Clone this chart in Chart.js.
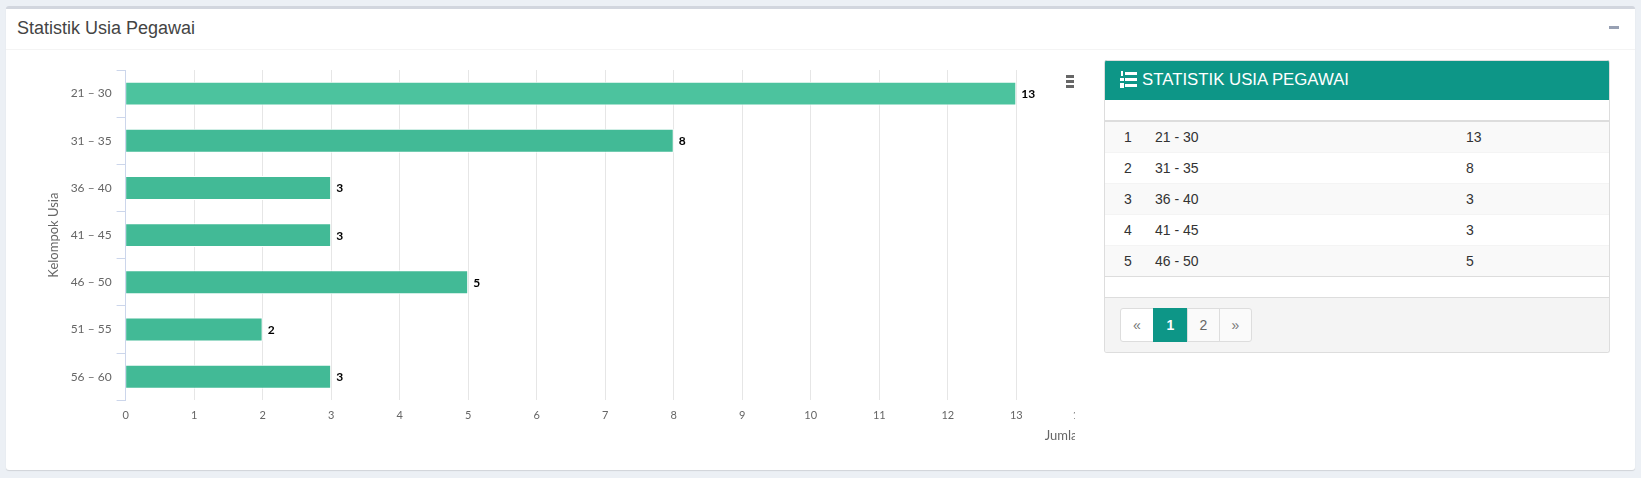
<!DOCTYPE html>
<html>
<head>
<meta charset="utf-8">
<title>Statistik Usia Pegawai</title>
<script src="https://cdn.jsdelivr.net/npm/chart.js@4"></script>
<style>
    * { box-sizing: border-box; }
    html, body { margin: 0; height: 100%; overflow: hidden; background: #ecf0f5; font-family: "Liberation Sans", Arial, sans-serif; color: #333; }
    .box { position: absolute; left: 6px; top: 6px; width: 1629px; height: 464px; background: #fff; border-top: 3px solid #d2d6de; border-radius: 3px; box-shadow: 0 1px 1px rgba(0,0,0,0.12); }
    .box-title { position: absolute; left: 11px; top: 9px; font-size: 18px; line-height: 21px; color: #444; }
    .box-line { position: absolute; left: 0; right: 0; top: 40px; height: 1px; background: #f4f4f4; }
    .minus { position: absolute; left: 1603px; top: 17px; width: 10px; height: 3px; background: #97a0b3; }
    .chart-clip { position: absolute; left: 6px; top: 59px; width: 1068.5px; height: 410px; overflow: hidden; }
    .chart-clip canvas { position: absolute; left: 0; top: 0; }
    .menu { position: absolute; left: 1066px; top: 75px; width: 8px; height: 13px; background: linear-gradient(#666 0 3px, #fff 3px 5px, #666 5px 8px, #fff 8px 10px, #666 10px 13px); }
    .card { position: absolute; left: 1104px; top: 60px; width: 506px; height: 293px; border: 1px solid #ddd; border-top: 0; border-radius: 3px; background: #fff; overflow: hidden; }
    .card-head { height: 40px; background: #0d9687; color: #fff; font-size: 16.8px; line-height: 37px; padding-left: 37px; position: relative; border-top: 1px solid #ddd; }
    .card-head svg { position: absolute; left: 15px; top: 10px; }
    .card table { position: absolute; left: 0; top: 60px; width: 504px; border-collapse: collapse; border-top: 2px solid #ddd; border-bottom: 1px solid #ddd; font-size: 14px; }
    .card td { height: 31px; padding: 0; border-top: 1px solid #f4f4f4; }
    .card tr:first-child td { border-top: 0; }
    .card tr:nth-child(odd) { background: #f9f9f9; }
    .card td:nth-child(1) { width: 50px; padding-left: 19px; }
    .card td:nth-child(2) { width: 311px; }
    .card-foot { position: absolute; left: 0; right: 0; top: 237px; bottom: 0; background: #f4f4f4; border-top: 1px solid #ddd; }
    .pager { position: absolute; left: 15px; top: 10px; display: flex; height: 34px; font-size: 14px; line-height: 32px; text-align: center; color: #666; }
    .pager span { display: block; width: 33px; background: #fafafa; border: 1px solid #ddd; margin-left: -1px; }
    .pager span:first-child { margin-left: 0; width: 34px; background: #fff; border-radius: 3px 0 0 3px; color: #777; }
    .pager span:last-child { border-radius: 0 3px 3px 0; color: #777; }
    .pager span.on { background: #0d9687; border-color: #0d9687; color: #fff; font-weight: bold; width: 35px; }
</style>
</head>
<body>
<div class="box">
    <div class="box-title">Statistik Usia Pegawai</div>
    <div class="box-line"></div>
    <div class="minus"></div>
</div>
<div class="chart-clip"><canvas id="grafikUsia" width="1100" height="410"></canvas></div>
<div class="menu"></div>
<div class="card">
    <div class="card-head">
        <svg width="18" height="18" viewBox="0 0 18 18">
            <g fill="#fff">
                <rect x="5" y="1" width="12" height="3"/><rect x="5" y="7" width="12" height="3"/><rect x="5" y="13" width="12" height="3"/>
                <rect x="1" y="0" width="2" height="5"/><rect x="0" y="7" width="4" height="3"/><rect x="0" y="12" width="4" height="5"/>
            </g>
        </svg>
        STATISTIK USIA PEGAWAI
    </div>
    <table><tbody id="tabelUsia"></tbody></table>
    <div class="card-foot">
        <div class="pager"><span>«</span><span class="on">1</span><span>2</span><span>»</span></div>
    </div>
</div>

<script>
    // Datos del grafico
    const kelompokUsia = ["21 - 30", "31 - 35", "36 - 40", "41 - 45", "46 - 50", "51 - 55", "56 - 60"];
    const jumlahPegawai = [13, 8, 3, 3, 5, 2, 3];
    const warnaBar = ["#4cc39e", "#42ba96", "#42ba96", "#42ba96", "#42ba96", "#42ba96", "#42ba96"];
    const barisTabel = 5; // la tabla solo muestra la primera pagina

    const fontEje = "Lato";

    // Filas de la tabla
    const tbody = document.getElementById("tabelUsia");
    for (let i = 0; i < barisTabel; i++) {
        const tr = document.createElement("tr");
        [i + 1, kelompokUsia[i], jumlahPegawai[i]].forEach((texto) => {
            const td = document.createElement("td");
            td.textContent = texto;
            tr.appendChild(td);
        });
        tbody.appendChild(tr);
    }

    // Etiqueta con el valor al final de cada barra
    const etiquetaBar = {
        id: "etiquetaBar",
        afterDatasetsDraw(chart) {
            const ctx = chart.ctx;
            ctx.save();
            ctx.font = "bold 12px " + fontEje;
            ctx.fillStyle = "#000";
            ctx.textBaseline = "middle";
            chart.getDatasetMeta(0).data.forEach((bar, i) => {
                ctx.fillText(jumlahPegawai[i], bar.x + 5, bar.y + 0.5);
            });
            ctx.restore();
        },
    };

    new Chart(document.getElementById("grafikUsia"), {
        type: "bar",
        data: {
            labels: kelompokUsia,
            datasets: [{
                data: jumlahPegawai,
                backgroundColor: warnaBar,
                borderColor: "#fff",
                borderWidth: 1,
                borderSkipped: "left",
                barPercentage: 0.507,
                categoryPercentage: 1,
            }],
        },
        plugins: [etiquetaBar],
        options: {
            indexAxis: "y",
            responsive: false,
            animation: false,
            layout: { padding: { top: 11, right: 21.2, left: 40, bottom: 0 } },
            plugins: { legend: { display: false }, tooltip: { enabled: false } },
            scales: {
                x: {
                    min: 0,
                    max: 14,
                    // alto fijo y sin relleno extra para que el area quede donde debe
                    afterFit: (scale) => {
                        scale.height = 68.7;
                        scale.paddingRight = 0;
                        scale.paddingLeft = 0;
                    },
                    border: { display: false },
                    grid: { color: "#e6e6e6", drawTicks: false },
                    ticks: {
                        stepSize: 1,
                        maxRotation: 0,
                        padding: 9,
                        color: "#666",
                        font: { family: fontEje, size: 11 },
                        // el ultimo tick queda corrido a la izquierda, como en el original
                        callback: (valor) => (valor === 14 ? "14    " : valor),
                    },
                    title: { display: true, text: "Jumlah", align: "end", color: "#666", font: { family: fontEje, size: 13 }, padding: { top: 4, bottom: 25 } },
                },
                y: {
                    afterFit: (scale) => {
                        scale.width = 79.6;
                        scale.paddingTop = 0;
                        scale.paddingBottom = 0;
                    },
                    border: { color: "#ccd6eb" },
                    grid: { drawOnChartArea: false, color: "#ccd6eb", tickLength: 9 },
                    ticks: {
                        padding: 5,
                        color: "#666",
                        font: { family: fontEje, size: 12 },
                        callback: (valor, i) => kelompokUsia[i].replace("-", "–"),
                    },
                    title: { display: true, text: "Kelompok Usia", color: "#666", font: { family: fontEje, size: 13 }, padding: { top: 0, bottom: 0 } },
                },
            },
        },
    });
</script>
</body>
</html>
